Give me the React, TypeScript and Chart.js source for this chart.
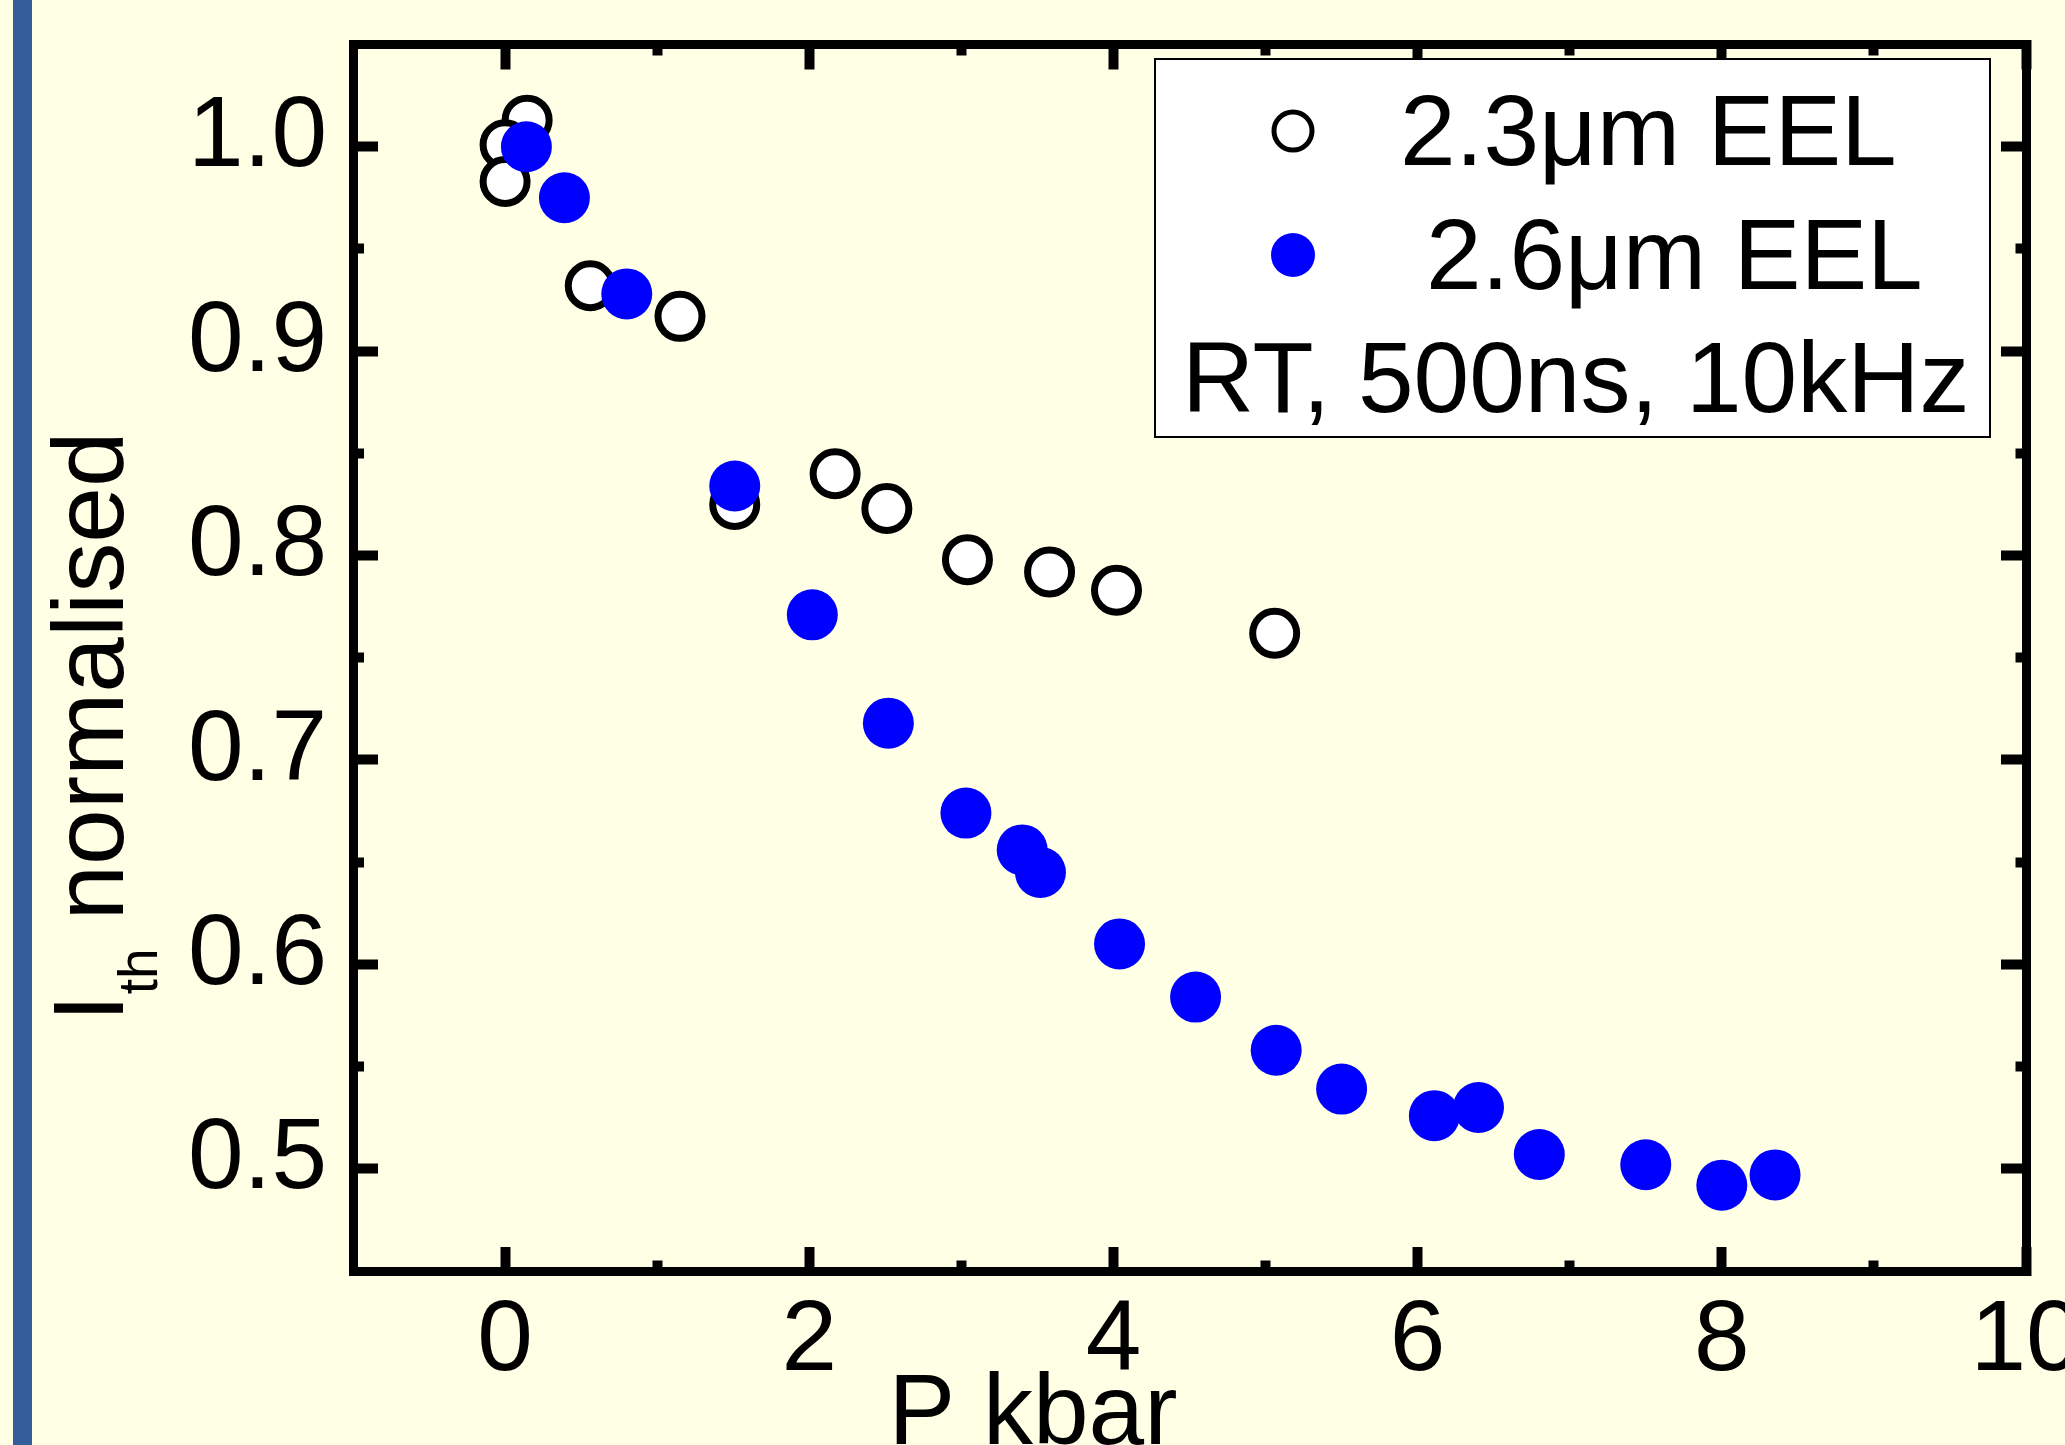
import React, { useEffect, useRef } from 'react';
import { Chart, registerables } from 'chart.js';

Chart.register(...registerables);

// ---- data ----
const SERIES_A_LABEL = '2.3μm EEL';
const SERIES_B_LABEL = '2.6μm EEL';
const CONDITIONS_LABEL = 'RT, 500ns, 10kHz';

const P_A = [0.145, 0.0, 0.0, 0.56, 1.15, 1.51, 2.17, 2.51, 3.04, 3.58, 4.02, 5.06];
const I_A = [1.013, 1.001, 0.983, 0.932, 0.917, 0.825, 0.84, 0.823, 0.798, 0.792, 0.783, 0.762];

const P_B = [0.14, 0.39, 0.8, 1.51, 2.02, 2.52, 3.03, 3.4, 3.52, 4.04, 4.54, 5.07, 5.5, 6.11, 6.4, 6.8, 7.5, 8.0, 8.35];
const I_B = [1.0, 0.975, 0.928, 0.834, 0.771, 0.718, 0.674, 0.656, 0.645, 0.61, 0.584, 0.558, 0.539, 0.526, 0.53, 0.507, 0.502, 0.492, 0.497];

const X_MAJOR = [0, 2, 4, 6, 8, 10];
const X_MINOR = [1, 3, 5, 7, 9];
const Y_MAJOR = [0.5, 0.6, 0.7, 0.8, 0.9, 1.0];
const Y_MINOR = [0.55, 0.65, 0.75, 0.85, 0.95];
const X_MIN = -1;
const X_MAX = 10;
const Y_MIN = 0.45;
const Y_MAX = 1.05;

const X_TITLE = 'P kbar';
const Y_TITLE_MAIN = 'I';
const Y_TITLE_SUB = 'th';
const Y_TITLE_REST = ' normalised';

// ---- styling ----
const FONT = '"Liberation Sans", Arial, Helvetica, sans-serif';
const BG = 'rgb(255,255,230)';
const STRIP = 'rgb(52,94,154)';
const W = 2065;
const H = 1445;

const near = (list: number[], v: number) => list.some((m) => Math.abs(m - v) < 1e-6);

function tickSet(major: number[], minor: number[]) {
  return (scale: any) => {
    scale.ticks = [...major, ...minor].sort((a, b) => a - b).map((v) => ({ value: v }));
  };
}

function zeroPad(scale: any) {
  scale.paddingLeft = 0;
  scale.paddingRight = 0;
  scale.paddingTop = 0;
  scale.paddingBottom = 0;
}

// minor ticks drawn shorter via a dash pattern; `startsOutside` tells which end the tick line starts at
function gridOpts(minor: number[], tickLength: number, startsOutside: boolean) {
  return {
    display: true,
    drawOnChartArea: false,
    drawTicks: true,
    tickLength,
    tickWidth: 10,
    tickColor: '#000',
    tickBorderDash: (ctx: any) => {
      const v = ctx.tick ? ctx.tick.value : NaN;
      if (!near(minor, v)) return [];
      return startsOutside ? [15.5, 1000] : [0, 14, 100, 0];
    },
  };
}

const border = { display: true, width: 9, color: '#000' };

const backgroundPlugin = {
  id: 'bgStrip',
  beforeDraw(chart: any) {
    const { ctx, width, height } = chart;
    ctx.save();
    ctx.fillStyle = BG;
    ctx.fillRect(0, 0, width, height);
    ctx.fillStyle = STRIP;
    ctx.fillRect(13, 0, 19, height);
    ctx.restore();
  },
};

const titlesPlugin = {
  id: 'axisTitles',
  afterDraw(chart: any) {
    const { ctx, chartArea } = chart;
    ctx.save();
    ctx.fillStyle = '#000';
    ctx.textBaseline = 'alphabetic';
    // x title
    ctx.font = `100px ${FONT}`;
    ctx.textAlign = 'center';
    ctx.fillText(X_TITLE, chartArea.left + 680, 1444);
    // y title, rotated
    ctx.translate(123, 1022);
    ctx.rotate(-Math.PI / 2);
    ctx.textAlign = 'left';
    ctx.font = `100px ${FONT}`;
    ctx.fillText(Y_TITLE_MAIN, 0, 0);
    let x = ctx.measureText(Y_TITLE_MAIN).width;
    ctx.font = `55px ${FONT}`;
    ctx.fillText(Y_TITLE_SUB, x, 34);
    x += ctx.measureText(Y_TITLE_SUB).width;
    ctx.font = `100px ${FONT}`;
    ctx.fillText(Y_TITLE_REST, x, 0);
    ctx.restore();
  },
};

const legendPlugin = {
  id: 'boxLegend',
  afterDatasetsDraw(chart: any) {
    const { ctx } = chart;
    const dsA = chart.data.datasets[1];
    const dsB = chart.data.datasets[0];
    ctx.save();
    ctx.fillStyle = '#fff';
    ctx.fillRect(1155, 59, 835, 378);
    ctx.strokeStyle = '#000';
    ctx.lineWidth = 2;
    ctx.strokeRect(1155, 59, 835, 378);
    // markers
    ctx.beginPath();
    ctx.arc(1293, 131, 19, 0, Math.PI * 2);
    ctx.fillStyle = dsA.pointBackgroundColor;
    ctx.fill();
    ctx.lineWidth = 5;
    ctx.strokeStyle = dsA.pointBorderColor;
    ctx.stroke();
    ctx.beginPath();
    ctx.arc(1293, 255, 22, 0, Math.PI * 2);
    ctx.fillStyle = dsB.pointBackgroundColor;
    ctx.fill();
    // texts
    ctx.fillStyle = '#000';
    ctx.font = `100px ${FONT}`;
    ctx.textAlign = 'left';
    ctx.textBaseline = 'alphabetic';
    ctx.fillText(SERIES_A_LABEL, 1400, 165);
    ctx.fillText(SERIES_B_LABEL, 1426, 289);
    ctx.fillText(CONDITIONS_LABEL, 1182, 412);
    ctx.restore();
  },
};

export default function App() {
  const ref = useRef<HTMLCanvasElement | null>(null);

  useEffect(() => {
    if (!ref.current) return;
    const chart = new Chart(ref.current, {
      type: 'scatter',
      data: {
        datasets: [
          {
            label: SERIES_B_LABEL,
            data: P_B.map((p, i) => ({ x: p, y: I_B[i] })),
            pointStyle: 'circle',
            pointRadius: 25.5,
            pointHoverRadius: 25.5,
            pointBorderWidth: 0,
            pointBackgroundColor: '#0000ff',
            pointBorderColor: '#0000ff',
            showLine: false,
            order: 0,
          },
          {
            label: SERIES_A_LABEL,
            data: P_A.map((p, i) => ({ x: p, y: I_A[i] })),
            pointStyle: 'circle',
            pointRadius: 22,
            pointHoverRadius: 22,
            pointBorderWidth: 7,
            pointBackgroundColor: '#ffffff',
            pointBorderColor: '#000000',
            showLine: false,
            order: 1,
          },
        ],
      },
      options: {
        responsive: false,
        maintainAspectRatio: false,
        animation: false,
        devicePixelRatio: 1,
        layout: { padding: { left: 0, top: 44.5, right: 39, bottom: 0 } },
        plugins: { legend: { display: false }, tooltip: { enabled: false }, title: { display: false } },
        scales: {
          x: {
            type: 'linear',
            position: 'bottom',
            min: X_MIN,
            max: X_MAX,
            afterBuildTicks: tickSet(X_MAJOR, X_MINOR),
            afterFit: (s: any) => { s.height = 174; zeroPad(s); },
            ticks: {
              display: true,
              autoSkip: false,
              maxRotation: 0,
              minRotation: 0,
              padding: 35,
              color: '#000',
              font: { family: FONT, size: 100 },
              callback: (v: any) => (near(X_MAJOR, Number(v)) ? String(Number(v)) : ''),
            },
            grid: gridOpts(X_MINOR, -24, true),
            border,
            title: { display: false },
          },
          x2: {
            type: 'linear',
            position: 'top',
            min: X_MIN,
            max: X_MAX,
            afterBuildTicks: tickSet(X_MAJOR, X_MINOR),
            afterFit: (s: any) => { s.height = 0; zeroPad(s); },
            ticks: { display: false, autoSkip: false },
            grid: gridOpts(X_MINOR, -25, false),
            border,
          },
          y: {
            type: 'linear',
            position: 'left',
            min: Y_MIN,
            max: Y_MAX,
            afterBuildTicks: tickSet(Y_MAJOR, Y_MINOR),
            afterFit: (s: any) => { s.width = 353; zeroPad(s); },
            ticks: {
              display: true,
              autoSkip: false,
              padding: 51,
              labelOffset: -8,
              color: '#000',
              font: { family: FONT, size: 100 },
              callback: (v: any) => (near(Y_MAJOR, Number(v)) ? Number(v).toFixed(1) : ''),
            },
            grid: gridOpts(Y_MINOR, -25, false),
            border,
            title: { display: false },
          },
          y2: {
            type: 'linear',
            position: 'right',
            min: Y_MIN,
            max: Y_MAX,
            afterBuildTicks: tickSet(Y_MAJOR, Y_MINOR),
            afterFit: (s: any) => { s.width = 0; zeroPad(s); },
            ticks: { display: false, autoSkip: false },
            grid: gridOpts(Y_MINOR, -25, true),
            border,
          },
        },
      },
      plugins: [backgroundPlugin, legendPlugin, titlesPlugin],
    } as any);
    return () => chart.destroy();
  }, []);

  return (
    <div style={{ position: 'absolute', left: 0, top: 0, width: W, height: H }}>
      <canvas ref={ref} width={W} height={H} style={{ display: 'block', width: W, height: H }} />
    </div>
  );
}
